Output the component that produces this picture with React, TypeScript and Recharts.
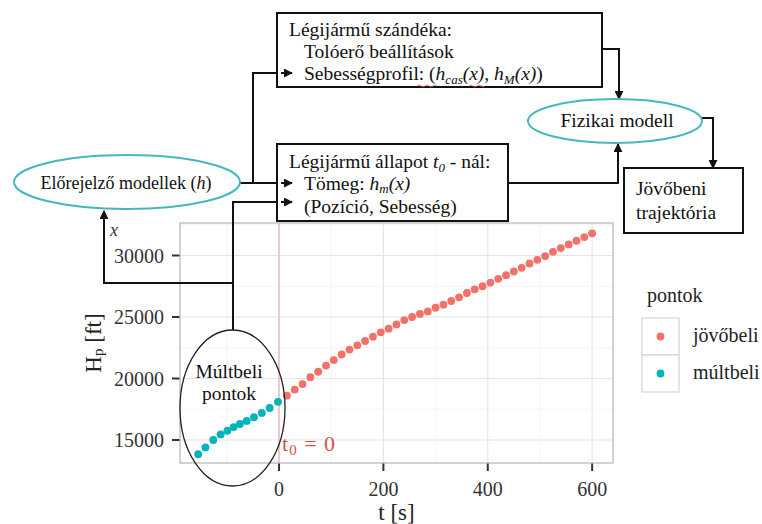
import React from "react";
import {
  ScatterChart,
  Scatter,
  XAxis,
  YAxis,
  CartesianGrid,
  ReferenceLine,
  Legend,
} from "recharts";

// múltbeli (past) and jövőbeli (future) altitude samples
const pastTimes = [-155, -141, -126, -112, -99, -87, -75, -62, -48, -33, -18, -2];
const pastAltitudes = [13850, 14400, 15000, 15450, 15750, 16050, 16300, 16550, 16850, 17200, 17600, 18100];

const futureTimes = [
  15, 30, 45, 60, 75, 90, 105, 120, 135, 150, 165, 180, 195, 210, 225, 240, 255, 270, 285, 300,
  315, 330, 345, 360, 375, 390, 405, 420, 435, 450, 465, 480, 495, 510, 525, 540, 555, 570, 585, 600,
];
const futureAltitudes = [
  18600, 19100, 19550, 20100, 20550, 21050, 21500, 21950, 22350, 22700, 23050, 23400, 23750, 24050,
  24400, 24750, 25000, 25250, 25450, 25750, 26000, 26300, 26600, 26950, 27250, 27500, 27800, 28100,
  28400, 28700, 29000, 29350, 29650, 29950, 30300, 30600, 30900, 31200, 31500, 31800,
];

const xTicks = [0, 200, 400, 600];
const xMinor = [-100, 100, 300, 500];
const yTicks = [15000, 20000, 25000, 30000];
const yMinor = [17500, 22500, 27500, 32500];

const seriesNames = ["jövőbeli", "múltbeli"];
const legendTitle = "pontok";

const RED = "#F2726A";
const CYAN = "#00B5BA";
const TEAL = "#45B7BF";
const FONT = "Liberation Serif, DejaVu Serif, serif";

const pastData = pastTimes.map((t, i) => ({ t, h: pastAltitudes[i] }));
const futureData = futureTimes.map((t, i) => ({ t, h: futureAltitudes[i] }));

const dot = (color: string) => (p: any) => <circle cx={p.cx} cy={p.cy} r={3.9} fill={color} />;

function T0Label(props: any) {
  const { x, y, height } = props.viewBox;
  return (
    <text x={x + 3} y={y + height - 12} fill="#d8504a" style={{ fontFamily: FONT }} fontSize={22} letterSpacing={1}>
      t<tspan fontSize={15} dy={4}>0</tspan>
      <tspan dy={-4}> = 0</tspan>
    </text>
  );
}

function YTitle(props: any) {
  const { x, y, height } = props.viewBox;
  const cx = x - 27;
  const cy = y + height / 2;
  return (
    <text x={cx} y={cy} transform={`rotate(-90 ${cx} ${cy})`} textAnchor="middle" style={{ fontFamily: FONT }} fontSize={23} fill="#222" dominantBaseline="central">
      H<tspan fontSize={15} dy={5}>p</tspan>
      <tspan dy={-5}> [ft]</tspan>
    </text>
  );
}

function XTitle(props: any) {
  const { x, y, width } = props.viewBox;
  return (
    <text x={x + width / 2} y={y + 57} textAnchor="middle" style={{ fontFamily: FONT }} fontSize={23} fill="#222">
      t [s]
    </text>
  );
}

function LegendBox(props: any) {
  const payload = props.payload || [];
  return (
    <svg width={122} height={130} style={{ overflow: "visible", fontFamily: FONT }}>
      <text x={7} y={32} fontSize={20} fill="#222">
        {legendTitle}
      </text>
      {payload.map((entry: any, i: number) => (
        <g key={entry.value}>
          <rect x={2} y={48 + i * 37} width={37} height={37} fill="#fff" stroke="#d4d4d4" strokeWidth={1.2} />
          <circle cx={20.5} cy={66.5 + i * 37} r={3.9} fill={entry.color} />
          <text x={53} y={72 + i * 37} fontSize={20} fill="#222">
            {entry.value}
          </text>
        </g>
      ))}
    </svg>
  );
}

function Diagram() {
  const line = { stroke: "#111", strokeWidth: 2, fill: "none" };
  const txt = { fontSize: 19.5, fill: "#111" };
  return (
    <svg width={762} height={524} style={{ position: "absolute", left: 0, top: 0, pointerEvents: "none", fontFamily: FONT }}>
      <defs>
        <marker id="arr" viewBox="0 0 10 10" refX={9} refY={5} markerWidth={4.5} markerHeight={4.5} orient="auto">
          <path d="M0,0 L10,5 L0,10 z" fill="#111" />
        </marker>
      </defs>

      {/* panel border */}
      <rect x={180} y={223} width={433} height={240} fill="none" stroke="#b5b5b5" strokeWidth={1.2} />

      {/* connectors */}
      <path d="M240,183 H253 V73 H292" {...line} markerEnd="url(#arr)" />
      <path d="M253,183 H292" {...line} markerEnd="url(#arr)" />
      <path d="M233,330 V202 H292" {...line} markerEnd="url(#arr)" />
      <path d="M233,283 H104 V211" {...line} markerEnd="url(#arr)" />
      <path d="M602,49 H619 V99" {...line} markerEnd="url(#arr)" />
      <path d="M508,183 H618 V144" {...line} markerEnd="url(#arr)" />
      <path d="M702,118 H713 V168" {...line} markerEnd="url(#arr)" />

      {/* Légijármű szándéka */}
      <rect x={277} y={13} width={325} height={74} fill="#fff" stroke="#111" strokeWidth={2} />
      <path d="M281,73 H292" {...line} markerEnd="url(#arr)" />
      <text x={289} y={36} {...txt}>Légijármű szándéka:</text>
      <text x={304} y={58} {...txt}>Tolóerő beállítások</text>
      <text x={304} y={80} {...txt}>
        Sebességprofil: (<tspan fontStyle="italic">h</tspan>
        <tspan fontStyle="italic" fontSize={13} dy={4}>cas</tspan>
        <tspan fontStyle="italic" dy={-4}>(x)</tspan>, <tspan fontStyle="italic">h</tspan>
        <tspan fontStyle="italic" fontSize={13} dy={4}>M</tspan>
        <tspan fontStyle="italic" dy={-4}>(x)</tspan>)
      </text>
      <path d="M417,86 q2,-2 4,0 t4,0 t4,0 t4,0 t4,0" stroke="#e06060" strokeWidth={0.8} fill="none" />
      <path d="M469,86 q2,-2 4,0 t4,0 t4,0 t4,0" stroke="#e06060" strokeWidth={0.8} fill="none" />

      {/* Légijármű állapot */}
      <rect x={277} y={144} width={231} height={77} fill="#fff" stroke="#111" strokeWidth={2} />
      <path d="M281,183 H292" {...line} markerEnd="url(#arr)" />
      <path d="M281,202 H292" {...line} markerEnd="url(#arr)" />
      <text x={289} y={168} {...txt}>
        Légijármű állapot <tspan fontStyle="italic">t</tspan>
        <tspan fontStyle="italic" fontSize={13} dy={4}>0</tspan>
        <tspan dy={-4}> - nál:</tspan>
      </text>
      <text x={304} y={190} {...txt}>
        Tömeg: <tspan fontStyle="italic">h</tspan>
        <tspan fontStyle="italic" fontSize={13} dy={3}>m</tspan>
        <tspan fontStyle="italic" dy={-3}>(x)</tspan>
      </text>
      <text x={304} y={213} {...txt}>(Pozíció, Sebesség)</text>

      {/* Előrejelző modellek */}
      <ellipse cx={127} cy={182} rx={113} ry={27} fill="#fff" stroke={TEAL} strokeWidth={2} />
      <text x={126} y={189} textAnchor="middle" fontSize={18} fill="#111">
        Előrejelző modellek (<tspan fontStyle="italic">h</tspan>)
      </text>
      <text x={110} y={236} fontSize={18} fontStyle="italic" fill="#333">x</text>

      {/* Fizikai modell */}
      <ellipse cx={615} cy={121} rx={87} ry={22} fill="#fff" stroke={TEAL} strokeWidth={2} />
      <text x={617} y={127} textAnchor="middle" {...txt}>Fizikai modell</text>

      {/* Jövőbeni trajektória */}
      <rect x={624} y={168} width={119} height={65} fill="#fff" stroke="#111" strokeWidth={2} />
      <text x={636} y={195} {...txt}>Jövőbeni</text>
      <text x={636} y={219} {...txt}>trajektória</text>

      {/* Múltbeli pontok */}
      <ellipse cx={232.5} cy={408} rx={52.5} ry={78} fill="none" stroke="#222" strokeWidth={1.3} />
      <text x={229} y={378} textAnchor="middle" {...txt}>Múltbeli</text>
      <text x={229} y={400} textAnchor="middle" {...txt}>pontok</text>
    </svg>
  );
}

export default function App() {
  const tickStyle = { fontFamily: FONT, fontSize: 20, fill: "#333" };
  return (
    <div style={{ position: "absolute", left: 0, top: 0, width: 762, height: 524, background: "#fff", fontFamily: FONT }}>
      <ScatterChart width={762} height={524} margin={{ top: 223, right: 149, bottom: 31, left: 120 }} style={{ fontFamily: FONT }}>
        <CartesianGrid verticalValues={xMinor} horizontalValues={yMinor} stroke="#f1f1f1" strokeWidth={0.8} />
        <CartesianGrid verticalValues={xTicks} horizontalValues={yTicks} stroke="#e4e4e4" strokeWidth={1.1} />
        <XAxis
          type="number"
          dataKey="t"
          domain={[-189.8, 640]}
          allowDataOverflow
          ticks={xTicks}
          axisLine={false}
          tickLine={{ stroke: "#333", strokeWidth: 2 }}
          tickSize={8}
          tickMargin={11}
          tick={tickStyle}
          height={30}
          label={<XTitle />}
        />
        <YAxis
          type="number"
          dataKey="h"
          domain={[13130, 32642]}
          allowDataOverflow
          ticks={yTicks}
          axisLine={false}
          tickLine={{ stroke: "#333", strokeWidth: 2 }}
          tickSize={8}
          tickMargin={8}
          tick={tickStyle}
          width={60}
          label={<YTitle />}
        />
        <ReferenceLine x={0} stroke="#f0a3a3" strokeWidth={1} label={<T0Label />} />
        <Scatter name={seriesNames[0]} data={futureData} fill={RED} shape={dot(RED)} isAnimationActive={false} />
        <Scatter name={seriesNames[1]} data={pastData} fill={CYAN} shape={dot(CYAN)} isAnimationActive={false} />
        <Legend
          layout="vertical"
          align="center"
          verticalAlign="middle"
          content={<LegendBox />}
          wrapperStyle={{ left: 640, top: 270, width: 122, height: 130 }}
        />
      </ScatterChart>
      <Diagram />
    </div>
  );
}
